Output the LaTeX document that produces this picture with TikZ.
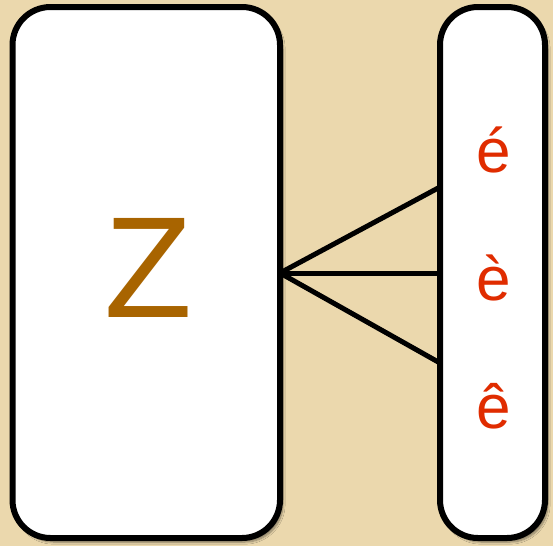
\documentclass[tikz,border=0pt]{standalone}
\usepackage{fontspec}
\setmainfont{Liberation Sans}
\usetikzlibrary{shadows.blur}
\definecolor{bgtan}{HTML}{EBD8AD}
\definecolor{zbrown}{HTML}{A86400}
\definecolor{accred}{HTML}{E02C00}
\tikzset{
  panel/.style={draw=black, line width=6pt, fill=white, rounded corners=38pt,
    inner sep=0pt, outer sep=0pt,
    blur shadow={shadow xshift=3pt, shadow yshift=-4pt, shadow opacity=45, shadow blur steps=8, shadow blur extra rounding=4pt}},
  link/.style={draw=black, line width=5pt},
  bigletter/.style={text=zbrown, font=\fontsize{144}{144}\selectfont, inner sep=0pt, anchor=base},
  smallletter/.style={text=accred, font=\fontsize{62}{62}\selectfont, inner sep=0pt, anchor=base}
}
\begin{document}
\begin{tikzpicture}[x=1pt,y=-1pt]
\fill[bgtan] (0,0) rectangle (553,546);
\useasboundingbox (0,0) rectangle (553,546);
\node[panel, minimum width=267.5pt, minimum height=531pt] (L) at (146.25,272.5) {};
\node[panel, minimum width=105pt, minimum height=531pt] (R) at (492.5,272.5) {};
\node[bigletter] (z) at (148,317) {Z};
\node[smallletter] (e1) at (494,172) {é};
\node[smallletter] (e2) at (494,300) {è};
\node[smallletter] (e3) at (494,428) {ê};
\coordinate (p1) at (440,187);
\coordinate (p2) at (440,273);
\coordinate (p3) at (440,363);
\coordinate (hub) at (280,273);
\draw[link] (hub) -- (p1);
\draw[link] (hub) -- (p2);
\draw[link] (hub) -- (p3);
\end{tikzpicture}
\end{document}
